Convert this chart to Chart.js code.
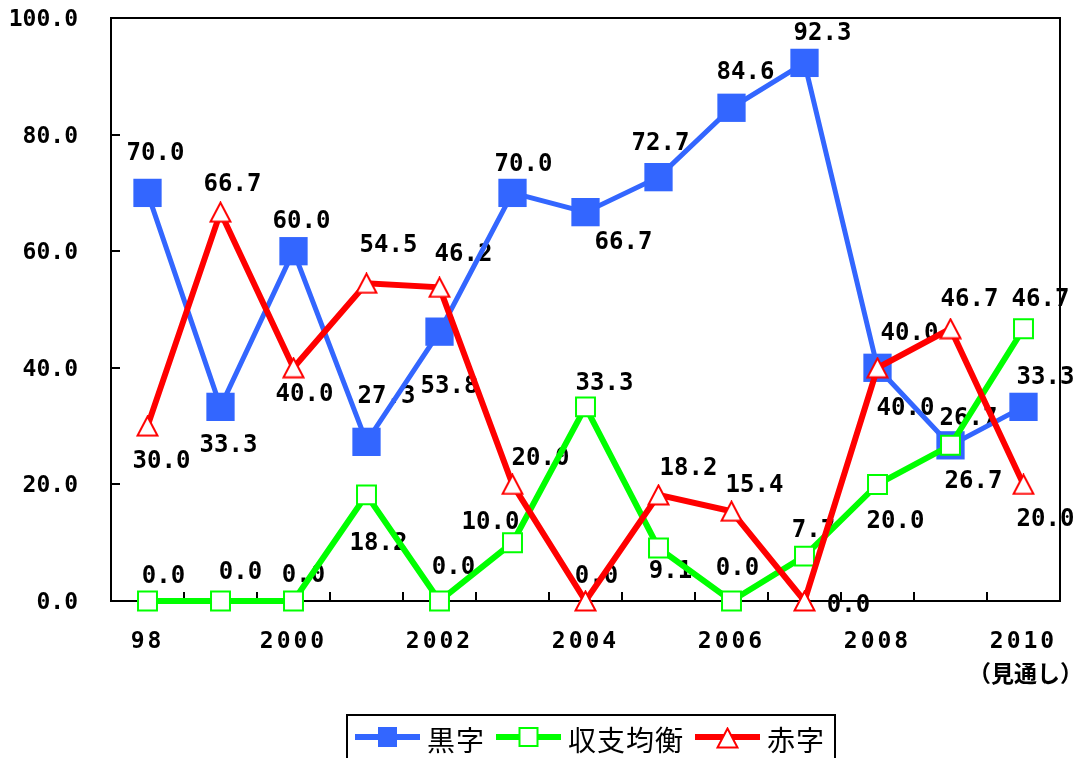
<!DOCTYPE html>
<html lang="ja">
<head>
<meta charset="utf-8">
<title>黒字・収支均衡・赤字の推移</title>
<script src="https://cdn.jsdelivr.net/npm/chart.js@4.4.1/dist/chart.umd.min.js"></script>
<style>
  html, body { margin: 0; padding: 0; background: #fff; }
  #wrap { width: 1076px; height: 758px; }
</style>
</head>
<body>
<div id="wrap"><canvas id="chart" width="1076" height="758"></canvas></div>
<script>
// 年度（98〜2010、2010は見通し）
const years = ['98', '99', '2000', '2001', '2002', '2003', '2004', '2005', '2006', '2007', '2008', '2009', '2010'];
const forecastNote = '（見通し）';
const seriesNames = ['黒字', '収支均衡', '赤字'];

// 構成比（%）
const surplus  = [70.0, 33.3, 60.0, 27.3, 46.2, 70.0, 66.7, 72.7, 84.6, 92.3, 40.0, 26.7, 33.3];
const balanced = [0.0, 0.0, 0.0, 18.2, 0.0, 10.0, 33.3, 9.1, 0.0, 7.7, 20.0, 26.7, 46.7];
const deficit  = [30.0, 66.7, 40.0, 54.5, 53.8, 20.0, 0.0, 18.2, 15.4, 0.0, 40.0, 46.7, 20.0];

// value label placement relative to each point, [dx, dy] in px
const surplusShift = [[8, -41], [8, 37], [8, -31], [20, -47], [24, -79], [11, -30], [38, 29],
                      [2, -35], [14, -37], [18, -31], [28, 39], [18, -29], [22, -31]];
const balancedShift = [[16, -26], [20, -30], [10, -27], [12, 47], [14, -35], [-22, -22], [19, -25],
                       [12, 22], [6, -34], [9, -27], [18, 35], [23, 34], [17, -31]];
const deficitShift = [[14, 34], [12, -29], [11, 25], [22, -39], [10, 97], [28, -28], [11, -26],
                      [30, -28], [23, -27], [44, 3], [32, -36], [19, -31], [22, 33]];
const labelShift = [surplusShift, balancedShift, deficitShift];

const BLUE = '#3366ff';
const GREEN = '#00ff00';
const RED = '#ff0000';
const NUM_FONT = '"DejaVu Sans Mono", monospace';
const JP_FONT = '"Noto Sans CJK JP", sans-serif';

// open triangle marker, centred on its bounding box
function makeTriangle(w, h, color) {
    const c = document.createElement('canvas');
    c.width = w + 2;
    c.height = h + 2;
    const g = c.getContext('2d');
    g.beginPath();
    g.moveTo(c.width / 2, 1.5);
    g.lineTo(c.width - 1.5, c.height - 1.5);
    g.lineTo(1.5, c.height - 1.5);
    g.closePath();
    g.fillStyle = '#fff';
    g.fill();
    g.lineWidth = 2;
    g.strokeStyle = color;
    g.stroke();
    return c;
}
const triangleMark = makeTriangle(21, 20, RED);

// numbers under the lines, like the original sheet
const valueLabels = {
    id: 'valueLabels',
    beforeDraw(chart) {
        const ctx = chart.ctx;
        ctx.save();
        ctx.font = 'bold 24px ' + NUM_FONT;
        ctx.fillStyle = '#000';
        ctx.textAlign = 'center';
        ctx.textBaseline = 'middle';
        chart.data.datasets.forEach((ds, di) => {
            const meta = chart.getDatasetMeta(di);
            meta.data.forEach((pt, i) => {
                const [dx, dy] = labelShift[di][i];
                // +2: 'middle' sits the digits a little high
                ctx.fillText(ds.data[i].toFixed(1), pt.x + dx, pt.y + dy + 2);
            });
        });
        ctx.restore();
    }
};

// top/right frame and inward tick marks
const frame = {
    id: 'frame',
    beforeDatasetsDraw(chart) {
        const { ctx, chartArea: a, scales: { x, y } } = chart;
        ctx.save();
        ctx.strokeStyle = '#000';
        ctx.lineWidth = 2;
        ctx.beginPath();
        ctx.moveTo(a.left, a.top);
        ctx.lineTo(a.right, a.top);
        ctx.lineTo(a.right, a.bottom);
        y.ticks.forEach(t => {
            const py = Math.round(y.getPixelForValue(t.value));
            ctx.moveTo(a.left, py);
            ctx.lineTo(a.left + 9, py);
        });
        for (let i = 1; i < years.length; i++) {
            const px = Math.round(x.getPixelForValue(i - 0.5));
            ctx.moveTo(px, a.bottom);
            ctx.lineTo(px, a.bottom - 9);
        }
        ctx.stroke();
        ctx.restore();
    },
    afterDatasetsDraw(chart) {
        // x labels are drawn after this (ticks.z = 1) and are spaced out
        chart.ctx.letterSpacing = '3px';
    }
};

const legendBox = {
    id: 'legendBox',
    afterDraw(chart) {
        const ctx = chart.ctx;
        const xs = chart.scales.x;
        ctx.save();
        ctx.letterSpacing = '0px';

        ctx.font = 'bold 23px ' + JP_FONT;
        ctx.fillStyle = '#000';
        ctx.textAlign = 'center';
        ctx.textBaseline = 'middle';
        ctx.fillText(forecastNote, xs.getPixelForValue(years.length - 1) + 2, 673);

        const top = 715, midY = 737;
        let cx = 355;
        ctx.font = '28px ' + JP_FONT;
        ctx.letterSpacing = '1px';
        ctx.textAlign = 'left';
        const colors = [BLUE, GREEN, RED];
        seriesNames.forEach((name, i) => {
            const x0 = cx, x1 = cx + 65, mx = (x0 + x1) / 2;
            ctx.beginPath();
            ctx.strokeStyle = colors[i];
            ctx.lineWidth = 6;
            ctx.moveTo(x0, midY);
            ctx.lineTo(x1, midY);
            ctx.stroke();
            if (i === 0) {
                ctx.fillStyle = BLUE;
                ctx.fillRect(mx - 9.5, midY - 10, 19, 20);
            } else if (i === 1) {
                ctx.fillStyle = '#fff';
                ctx.fillRect(mx - 9, midY - 9, 18, 18);
                ctx.lineWidth = 2;
                ctx.strokeRect(mx - 9, midY - 9, 18, 18);
            } else {
                ctx.drawImage(triangleMark, mx - triangleMark.width / 2, midY + 1 - triangleMark.height / 2);
            }
            ctx.fillStyle = '#000';
            ctx.fillText(name, x1 + 7, midY + 3);
            cx = x1 + 7 + ctx.measureText(name).width + 11;
        });
        ctx.strokeStyle = '#000';
        ctx.lineWidth = 2;
        ctx.strokeRect(347, top, cx - 11 + 10 - 347, 60);
        ctx.restore();
    }
};

new Chart(document.getElementById('chart'), {
    type: 'line',
    data: {
        labels: years,
        datasets: [
            {
                label: seriesNames[0],
                data: surplus,
                borderColor: BLUE,
                backgroundColor: BLUE,
                borderWidth: 5,
                pointStyle: 'rect',
                pointRadius: 20,
                pointBorderWidth: 0,
                pointBackgroundColor: BLUE,
                clip: false,
                order: 3
            },
            {
                label: seriesNames[1],
                data: balanced,
                borderColor: GREEN,
                backgroundColor: '#fff',
                borderWidth: 6,
                pointStyle: 'rect',
                pointRadius: 13.4,
                pointBorderWidth: 2,
                pointBorderColor: GREEN,
                pointBackgroundColor: '#fff',
                clip: false,
                order: 2
            },
            {
                label: seriesNames[2],
                data: deficit,
                borderColor: RED,
                backgroundColor: '#fff',
                borderWidth: 6,
                pointStyle: triangleMark,
                clip: false,
                order: 1
            }
        ]
    },
    options: {
        responsive: false,
        animation: false,
        events: [],
        layout: { autoPadding: false, padding: { top: 18, right: 16, bottom: 57, left: 0 } },
        plugins: {
            legend: { display: false },
            tooltip: { enabled: false }
        },
        scales: {
            x: {
                offset: true,
                afterFit: s => {
                    s.height = 100;
                    s.paddingLeft = 0;
                    s.paddingRight = 0;
                },
                grid: { display: true, drawOnChartArea: false, drawTicks: false, offset: true },
                border: { display: true, color: '#000', width: 2 },
                ticks: {
                    autoSkip: false,
                    maxRotation: 0,
                    padding: 27,
                    z: 1,
                    color: '#000',
                    font: { family: NUM_FONT, size: 23, weight: 'bold' },
                    callback: (v, i) => (i % 2 === 0 ? years[i] : '')
                }
            },
            y: {
                min: 0,
                max: 100,
                afterFit: s => {
                    s.width = 111;
                    s.paddingTop = 0;
                    s.paddingBottom = 0;
                },
                grid: { drawOnChartArea: false, drawTicks: false },
                border: { display: true, color: '#000', width: 2 },
                ticks: {
                    stepSize: 20,
                    padding: 33,
                    labelOffset: 2,
                    color: '#000',
                    font: { family: NUM_FONT, size: 23, weight: 'bold' },
                    callback: v => v.toFixed(1)
                }
            }
        }
    },
    plugins: [valueLabels, frame, legendBox]
});
</script>
</body>
</html>
